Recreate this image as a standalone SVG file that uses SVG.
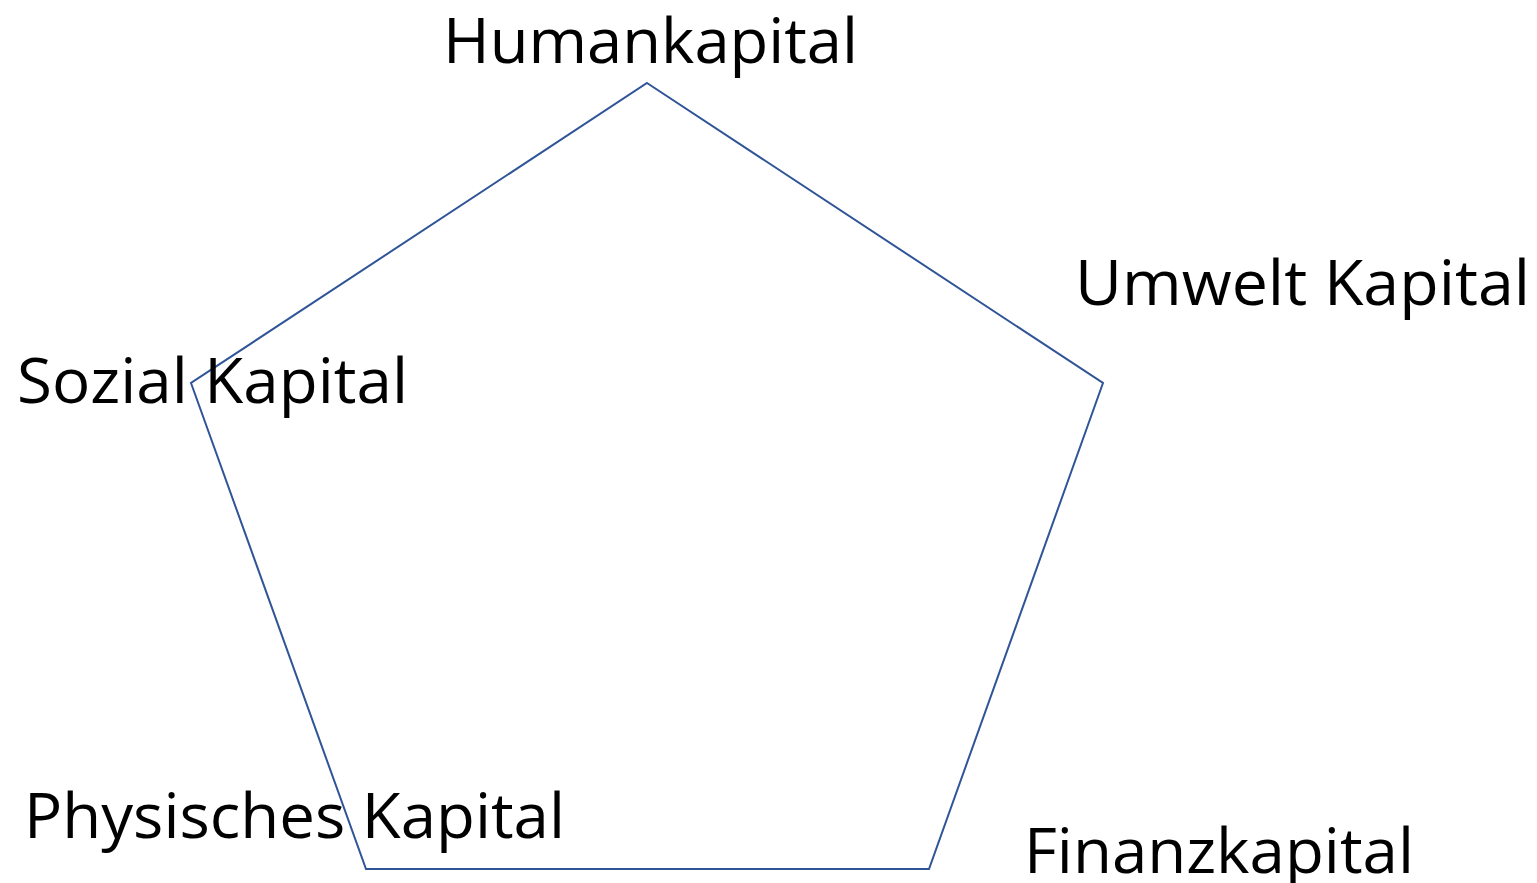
<svg xmlns="http://www.w3.org/2000/svg" width="1537" height="883" viewBox="0 0 1537 883">
<style>
.lbl{font-family:"Open Sans","Liberation Sans",sans-serif;font-size:62px;fill:#000}
.pent{fill:none;stroke:#2F5597;stroke-width:2}
</style>
<rect width="1537" height="883" fill="#fff"/>
<g id="pentagon"><polygon class="pent" points="647,83 1103,383 929,869 366,869 191,383"/></g>
<g id="humankapital"><text class="lbl" x="443" y="63" textLength="415" lengthAdjust="spacingAndGlyphs">Humankapital</text></g>
<g id="umwelt"><text class="lbl" x="1075" y="305" textLength="455" lengthAdjust="spacingAndGlyphs">Umwelt Kapital</text></g>
<g id="sozial"><text class="lbl" x="17" y="403" textLength="391" lengthAdjust="spacingAndGlyphs">Sozial Kapital</text></g>
<g id="physisch"><text class="lbl" x="24" y="838" textLength="541" lengthAdjust="spacingAndGlyphs">Physisches Kapital</text></g>
<g id="finanz"><text class="lbl" x="1024" y="873" textLength="390" lengthAdjust="spacingAndGlyphs">Finanzkapital</text></g>
<g id="connectors"></g>
</svg>
